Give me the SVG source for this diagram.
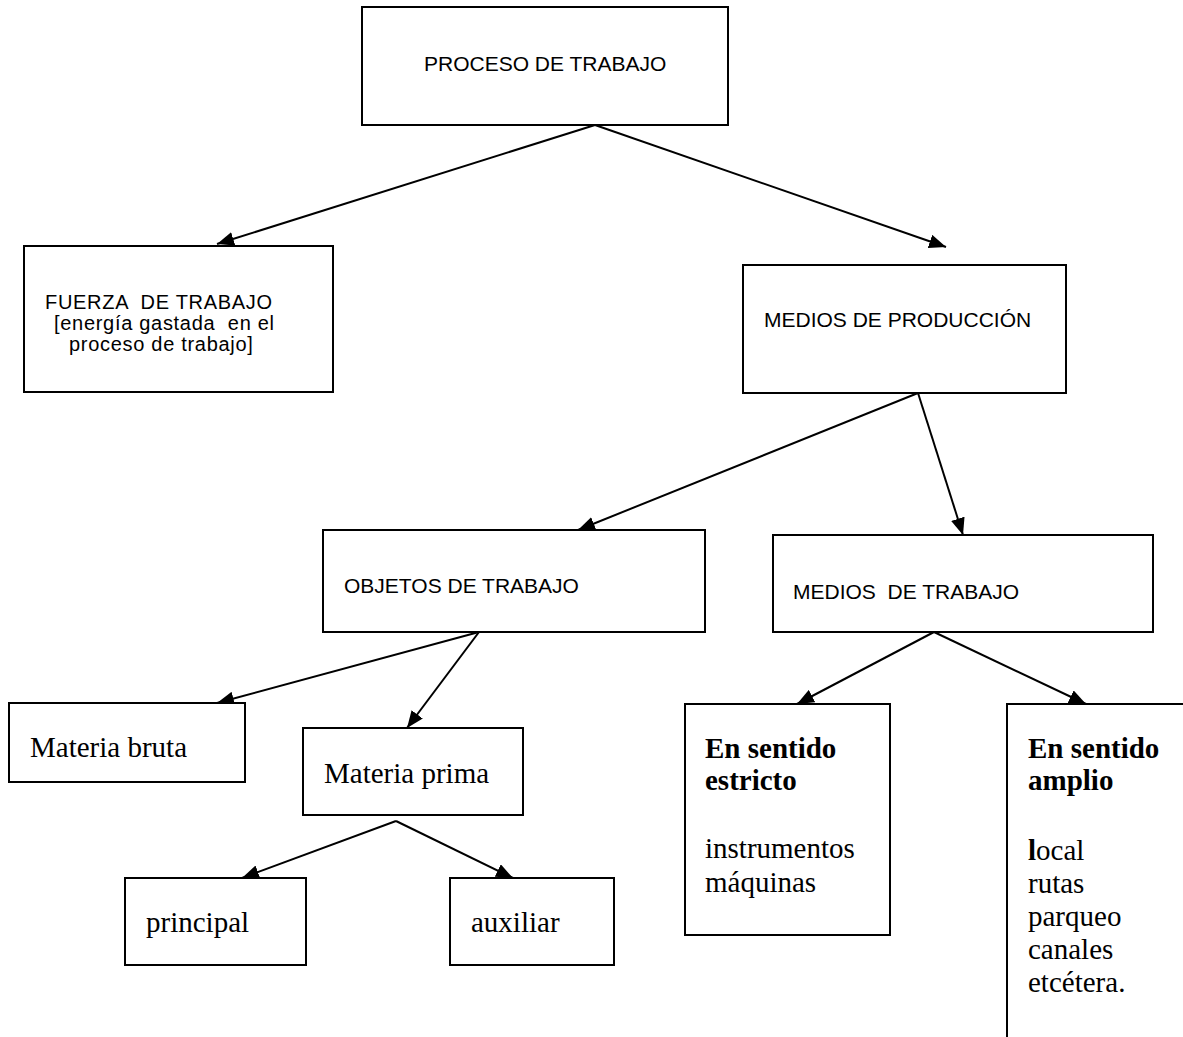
<svg xmlns="http://www.w3.org/2000/svg" width="1183" height="1037" viewBox="0 0 1183 1037">
<style>
.box{fill:#fff;stroke:#000;stroke-width:2}
.con{stroke:#000;stroke-width:2;fill:none}
.sans{font-family:"Liberation Sans",Arial,sans-serif;font-size:21px;fill:#000;white-space:pre}
.small{font-size:20px;letter-spacing:0.7px}
.serif{font-family:"Liberation Serif","Times New Roman",serif;font-size:29px;fill:#000;white-space:pre}
.b{font-weight:bold}
</style>
<defs>
<marker id="ah" markerUnits="userSpaceOnUse" markerWidth="18" markerHeight="14" refX="17" refY="7" orient="auto">
<path d="M0,0 L17,7 L0,14 z" fill="#000"/>
</marker>
</defs>
<rect width="1183" height="1037" fill="#fff"/>
<g id="connectors">
<line class="con" x1="595" y1="125" x2="217" y2="244" marker-end="url(#ah)"/>
<line class="con" x1="595" y1="125" x2="946" y2="247" marker-end="url(#ah)"/>
<line class="con" x1="918" y1="393" x2="578" y2="530" marker-end="url(#ah)"/>
<line class="con" x1="918" y1="393" x2="963" y2="535" marker-end="url(#ah)"/>
<line class="con" x1="479" y1="632" x2="217" y2="703" marker-end="url(#ah)"/>
<line class="con" x1="479" y1="632" x2="407" y2="728" marker-end="url(#ah)"/>
<line class="con" x1="396" y1="821" x2="242" y2="878" marker-end="url(#ah)"/>
<line class="con" x1="396" y1="821" x2="513" y2="878" marker-end="url(#ah)"/>
<line class="con" x1="934" y1="632" x2="797" y2="704" marker-end="url(#ah)"/>
<line class="con" x1="934" y1="632" x2="1086" y2="704" marker-end="url(#ah)"/>
</g>
<g id="proceso">
<rect class="box" x="362" y="7" width="366" height="118"/>
<text class="sans" x="424" y="71">PROCESO DE TRABAJO</text>
</g>
<g id="fuerza">
<rect class="box" x="24" y="246" width="309" height="146"/>
<text class="sans small" x="45" y="309">FUERZA  DE TRABAJO</text>
<text class="sans small" x="54" y="330">[energía gastada  en el</text>
<text class="sans small" x="69" y="351">proceso de trabajo]</text>
</g>
<g id="medios-produccion">
<rect class="box" x="743" y="265" width="323" height="128"/>
<text class="sans" x="764" y="327">MEDIOS DE PRODUCCIÓN</text>
</g>
<g id="objetos">
<rect class="box" x="323" y="530" width="382" height="102"/>
<text class="sans" x="344" y="593">OBJETOS DE TRABAJO</text>
</g>
<g id="medios-trabajo">
<rect class="box" x="773" y="535" width="380" height="97"/>
<text class="sans" x="793" y="599">MEDIOS  DE TRABAJO</text>
</g>
<g id="materia-bruta">
<rect class="box" x="9" y="703" width="236" height="79"/>
<text class="serif" x="30" y="757">Materia bruta</text>
</g>
<g id="materia-prima">
<rect class="box" x="303" y="728" width="220" height="87"/>
<text class="serif" x="324" y="783">Materia prima</text>
</g>
<g id="principal">
<rect class="box" x="125" y="878" width="181" height="87"/>
<text class="serif" x="146" y="932">principal</text>
</g>
<g id="auxiliar">
<rect class="box" x="450" y="878" width="164" height="87"/>
<text class="serif" x="471" y="932">auxiliar</text>
</g>
<g id="estricto">
<rect class="box" x="685" y="704" width="205" height="231"/>
<text class="serif b" x="705" y="758">En sentido</text>
<text class="serif b" x="705" y="790">estricto</text>
<text class="serif" x="705" y="858">instrumentos</text>
<text class="serif" x="705" y="892">máquinas</text>
</g>
<g id="amplio">
<rect class="box" x="1007" y="704" width="200" height="360"/>
<text class="serif b" x="1028" y="758">En sentido</text>
<text class="serif b" x="1028" y="790">amplio</text>
<text class="serif" x="1028" y="860"><tspan class="b">l</tspan>ocal</text>
<text class="serif" x="1028" y="893">rutas</text>
<text class="serif" x="1028" y="926">parqueo</text>
<text class="serif" x="1028" y="959">canales</text>
<text class="serif" x="1028" y="992">etcétera.</text>
</g>
</svg>
